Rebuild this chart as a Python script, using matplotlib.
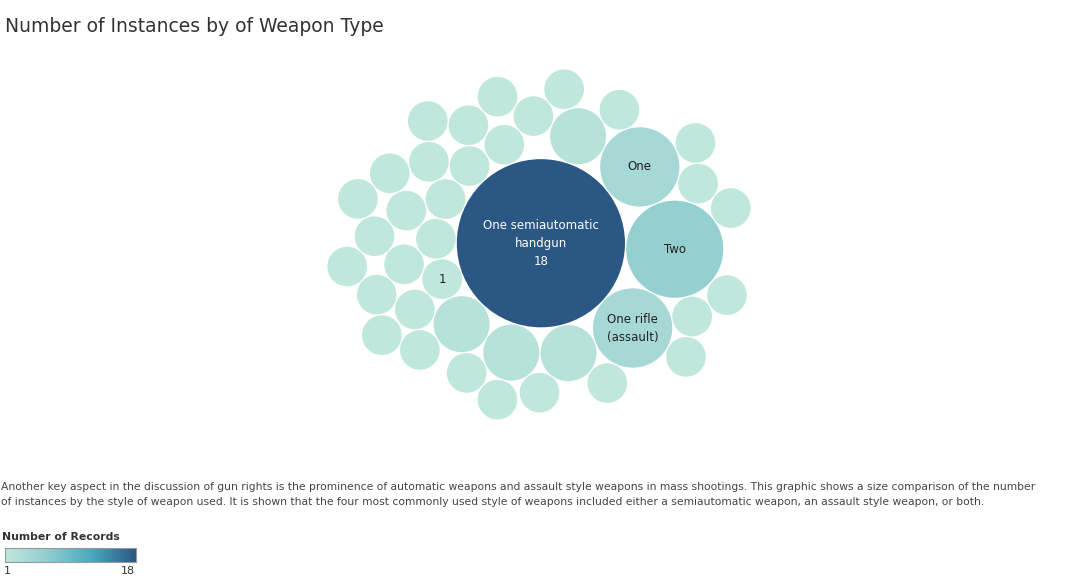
import numpy as np
import matplotlib.pyplot as plt
from matplotlib.colors import LinearSegmentedColormap, Normalize
from matplotlib.patches import Circle

labels = ["One semiautomatic\nhandgun\n18", "Two", "One", "One rifle\n(assault)"] + [""]*4 + ["1"] + [""]*31
values = [18, 6, 4, 4] + [2]*4 + [1]*32

cmap = LinearSegmentedColormap.from_list("bt", ["#c0e7dc", "#8fcdd0", "#4aa8c0", "#2a5783"])
norm = Normalize(1, 18)

# greedy circle packing
radii = np.sqrt(np.array(values, float))
pad = 0.06
placed = []
for r in radii:
    if not placed:
        placed.append((0.0, 0.0, r)); continue
    cands = []
    if len(placed) == 1:
        x0, y0, r0 = placed[0]
        cands.append((x0 + r0 + r + pad, y0 - 0.3))
    for i in range(len(placed)):
        for j in range(i + 1, len(placed)):
            x1, y1, r1 = placed[i]; x2, y2, r2 = placed[j]
            d1, d2 = r1 + r + pad, r2 + r + pad
            dx, dy = x2 - x1, y2 - y1
            d = np.hypot(dx, dy)
            if d == 0 or d > d1 + d2 or d < abs(d1 - d2):
                continue
            a = (d1**2 - d2**2 + d**2) / (2 * d)
            h = np.sqrt(max(d1**2 - a**2, 0))
            mx, my = x1 + a * dx / d, y1 + a * dy / d
            cands.append((mx + h * dy / d, my - h * dx / d))
            cands.append((mx - h * dy / d, my + h * dx / d))
    best = None
    for cx, cy in cands:
        ok = all(np.hypot(cx - px, cy - py) >= pr + r + pad - 1e-6 for px, py, pr in placed)
        if ok:
            dist = np.hypot(cx * 0.9, cy * 1.1)
            if best is None or dist < best[0]:
                best = (dist, cx, cy)
    placed.append((best[1], best[2], r))

fig = plt.figure(figsize=(10.78, 5.82), dpi=100)
fig.text(0.005, 0.97, "Number of Instances by of Weapon Type", fontsize=13.5, color="#333333", va="top")
ax = fig.add_axes([0.3, 0.21, 0.4, 0.74])
ax.set_aspect("equal")
ax.axis("off")
for (x, y, r), v, lab in zip(placed, values, labels):
    c = cmap(norm(v))
    ax.add_patch(Circle((x, y), r, facecolor=c, edgecolor="none"))
    if lab:
        ax.text(x, y, lab, ha="center", va="center", fontsize=8.5,
                color="white" if v > 10 else "#222222", linespacing=1.5)
xs = [p[0] for p in placed]; ys = [p[1] for p in placed]; rs = [p[2] for p in placed]
ax.set_xlim(min(x - r for x, r in zip(xs, rs)) - 0.2, max(x + r for x, r in zip(xs, rs)) + 0.2)
ax.set_ylim(min(y - r for y, r in zip(ys, rs)) - 0.2, max(y + r for y, r in zip(ys, rs)) + 0.2)

desc = ("Another key aspect in the discussion of gun rights is the prominence of automatic weapons and assault style weapons in mass shootings. This graphic shows a size comparison of the number\n"
        "of instances by the style of weapon used. It is shown that the four most commonly used style of weapons included either a semiautomatic weapon, an assault style weapon, or both.")
fig.text(0.001, 0.172, desc, fontsize=7.75, color="#444444", va="top", linespacing=1.6)
fig.text(0.002, 0.078, "Number of Records", fontsize=7.8, fontweight="bold", color="#333333", va="center")
cax = fig.add_axes([0.005, 0.034, 0.121, 0.025])
cax.imshow(np.linspace(0, 1, 256)[None, :], aspect="auto", cmap=cmap)
cax.set_xticks([]); cax.set_yticks([])
for s in cax.spines.values():
    s.set_color("#999999")
fig.text(0.004, 0.028, "1", fontsize=8, color="#333333", va="top")
fig.text(0.125, 0.028, "18", fontsize=8, color="#333333", va="top", ha="right")
fig.savefig("out.png")
